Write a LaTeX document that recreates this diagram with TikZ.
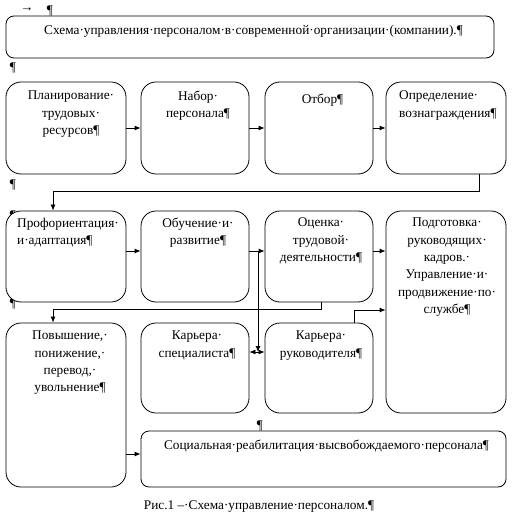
\documentclass[tikz,border=0pt]{standalone}
\usepackage{fontspec}
\setmainfont{Liberation Serif}
\usetikzlibrary{arrows.meta}
\newcommand{\myfs}{\fontsize{13.3}{17.3}\selectfont}
\tikzset{
  box/.style={draw, fill=white, rounded corners=15pt, inner sep=0pt, line width=0.8pt},
  sbox/.style={box, rounded corners=8pt},
  txt/.style={font=\myfs, align=center, inner sep=0pt, anchor=north, yshift=12.11pt, execute at begin node={\strut}},
  ltxt/.style={txt, align=left, anchor=north west},
  arr/.style={-{Latex[length=6pt,width=5pt]}, line width=0.8pt},
  pmark/.style={font=\myfs, inner sep=0pt, anchor=base}
}
\begin{document}
\begin{tikzpicture}[x=1pt,y=-1pt]
\useasboundingbox (0,0) rectangle (518,518);
% stray formatting marks (drawn first, partly hidden by boxes)
\node[pmark] (m0) at (27,12) {→};
\node[pmark] (m1) at (50,15) {¶};
\node[pmark] (m2) at (13,72) {¶};
\node[pmark] (m3) at (13,189) {¶};
\node[pmark] (m4) at (13,219) {¶};
\node[pmark] (m5) at (13,307) {¶};
\node[pmark] (m6) at (13,336) {¶};
\node[pmark] (m7) at (260,429) {¶};
% boxes
\node[sbox, minimum width=488, minimum height=42] (title) at (250,37) {};
\node[box, minimum width=120, minimum height=92] (r1a) at (66,128) {};
\node[box, minimum width=108, minimum height=92] (r1b) at (195,128) {};
\node[box, minimum width=108, minimum height=92] (r1c) at (319,128) {};
\node[box, minimum width=120, minimum height=92] (r1d) at (446,128) {};
\node[box, minimum width=120, minimum height=91] (r2a) at (66,256.5) {};
\node[box, minimum width=108, minimum height=91] (r2b) at (195,256.5) {};
\node[box, minimum width=108, minimum height=91] (r2c) at (319,256.5) {};
\node[box, minimum width=120, minimum height=202] (r2d) at (446,312) {};
\node[box, minimum width=120, minimum height=164] (r3a) at (66,405) {};
\node[box, minimum width=108, minimum height=90] (r3b) at (195,368) {};
\node[box, minimum width=108, minimum height=90] (r3c) at (319,368) {};
\node[sbox, minimum width=365, minimum height=56] (soc) at (323.5,459) {};
% texts
\node[txt] (t0) at (253.5,34) {Схема·управления·персоналом·в·современной·организации·(компании).¶};
\node[txt] (t1a) at (71,103) {Планирование·\\трудовых·\\ресурсов¶};
\node[txt] (t1b) at (198,103) {Набор·\\персонала¶};
\node[txt] (t1c) at (322.5,103) {Отбор¶};
\node[ltxt] (t1d) at (399,103) {Определение·\\вознаграждения¶};
\node[ltxt] (t2a) at (17,230) {Профориентация·\\и·адаптация¶};
\node[txt] (t2b) at (198,230) {Обучение·и·\\развитие¶};
\node[txt] (t2c) at (321,230) {Оценка·\\трудовой·\\деятельности¶};
\node[txt] (t2d) at (447,230) {Подготовка·\\руководящих·\\кадров.·\\Управление·и·\\продвижение·по·\\службе¶};
\node[txt] (t3a) at (70,343) {Повышение,·\\понижение,·\\перевод,·\\увольнение¶};
\node[txt] (t3b) at (197,343) {Карьера·\\специалиста¶};
\node[txt] (t3c) at (321,343) {Карьера·\\руководителя¶};
\node[txt] (t4) at (326.5,449) {Социальная·реабилитация·высвобождаемого·персонала¶};
\node[txt] (cap) at (259,509) {Рис.1 –·Схема·управление·персоналом.¶};
% helper coordinates
\coordinate (y2) at (0,251);
\coordinate (j) at (258,251);
\coordinate (jb) at (258,352);
\coordinate (y3) at (0,454);
\coordinate (k1) at (479,191);
\coordinate (k2) at (321,309);
\coordinate (k3) at (354,310);
% connectors row 1
\draw[arr] (r1a.east) -- (r1b.west);
\draw[arr] (r1b.east) -- (r1c.west);
\draw[arr] (r1c.east) -- (r1d.west);
\draw[arr] (r1d.south -| k1) -- (k1) -| ([xshift=-13pt]r2a.north);
% connectors row 2
\draw[arr] (r2a.east |- y2) -- (r2b.west |- y2);
\draw[arr] (r2b.east |- y2) -- (r2c.west |- y2);
\draw[arr] (r2c.east |- y2) -- (r2d.west |- y2);
\draw[arr] (j) -- (jb);
\draw[arr] (jb) -- (r3b.east |- jb);
\draw[arr] (jb) -- (r3c.west |- jb);
\draw[arr] (r2c.south -| k2) -- (k2) -| ([xshift=-13pt]r3a.north);
\draw[arr] (r3c.north -| k3) -- (k3) -- (r2d.west |- k3);
% row 3
\draw[arr] (r3a.east |- y3) -- (soc.west |- y3);
\end{tikzpicture}
\end{document}
